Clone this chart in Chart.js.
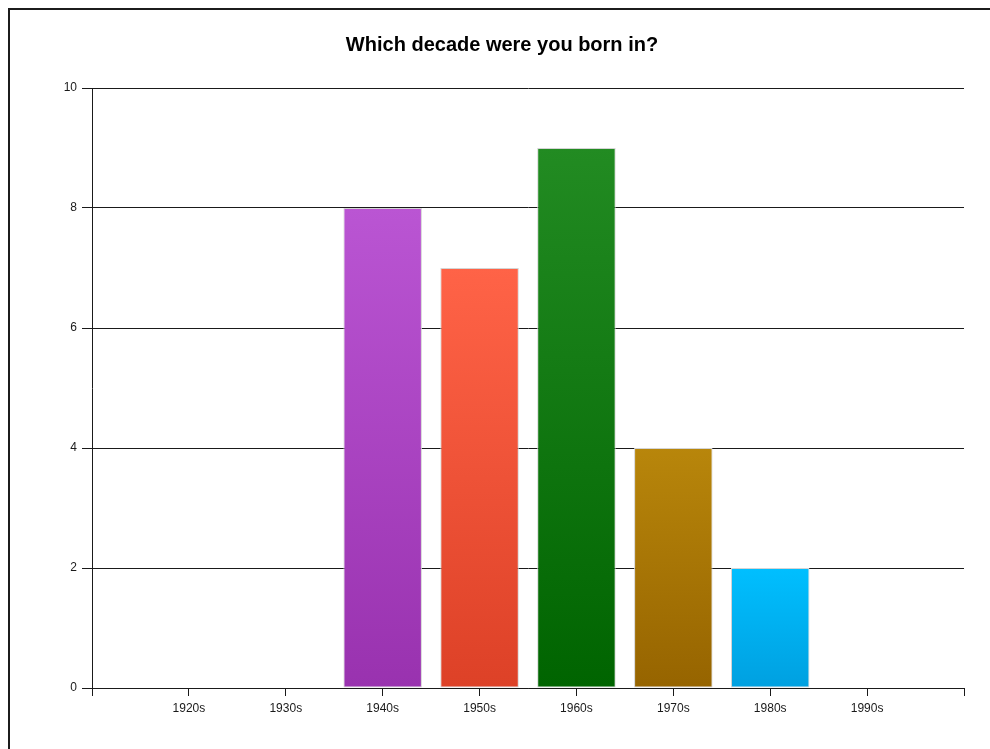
<!DOCTYPE html>
<html>
<head>
<meta charset="utf-8">
<script src="https://cdn.jsdelivr.net/npm/chart.js@4.4.1/dist/chart.umd.min.js"></script>
<style>
  html, body { margin: 0; padding: 0; background: #fff; overflow: hidden; }
  #frame {
    position: absolute; left: 8px; top: 8px;
    width: 1100px; height: 900px;
    border: 2px solid #1c1c1c; box-sizing: border-box;
  }
  #chart { position: absolute; left: 0; top: 0; }
</style>
</head>
<body>
<div id="frame"></div>
<canvas id="chart" width="990" height="749"></canvas>
<script>
// Survey answers: number of respondents per birth decade
const decades = ['1920s', '1930s', '1940s', '1950s', '1960s', '1970s', '1980s', '1990s'];
const respondents = [0, 0, 8, 7, 9, 4, 2, 0];
const yTicks = [0, 2, 4, 6, 8, 10];

// Bar fill: lighter at the top of each bar, darker at its base
const topColors    = ['#BA55D3', '#BA55D3', '#BA55D3', '#FF6347', '#228B22', '#B8860B', '#00BFFF', '#00BFFF'];
const bottomColors = ['#9932AF', '#9932AF', '#9932AF', '#DD4127', '#006400', '#966400', '#00A0E0', '#00A0E0'];

// An empty slot on each side keeps the bars a full step away from the axes
const labels = ['', ...decades, ''];
const values = [null, ...respondents, null];

function barFill(ctx) {
  const i = ctx.dataIndex - 1;
  if (i < 0 || i >= decades.length) return 'rgba(0,0,0,0)';
  const chart = ctx.chart;
  const y = chart.scales && chart.scales.y;
  if (!chart.chartArea || !y || ctx.raw == null) return topColors[i];
  const top = y.getPixelForValue(ctx.raw);
  const base = y.getPixelForValue(0);
  if (Math.abs(base - top) < 1) return topColors[i];
  const g = chart.ctx.createLinearGradient(0, top, 0, base);
  g.addColorStop(0, topColors[i]);
  g.addColorStop(1, bottomColors[i]);
  return g;
}

const tickFont = { family: '"Liberation Sans", Arial, sans-serif', size: 12 };
const ink = '#1a1a1a';

new Chart(document.getElementById('chart'), {
  type: 'bar',
  data: {
    labels: labels,
    datasets: [{
      data: values,
      backgroundColor: barFill,
      borderColor: '#d4d4d4',
      borderWidth: 1,
      borderSkipped: false,
      categoryPercentage: 1.0,
      barPercentage: 0.81
    }]
  },
  options: {
    responsive: false,
    animation: false,
    events: [],
    layout: { padding: { left: 40, right: 26, top: 0, bottom: 0 } },
    plugins: {
      legend: { display: false },
      tooltip: { enabled: false },
      title: {
        display: true,
        text: 'Which decade were you born in?',
        color: '#000',
        font: { family: '"Liberation Sans", Arial, sans-serif', size: 20, weight: 'bold', lineHeight: 1.2 },
        padding: { top: 33, bottom: 31 }
      }
    },
    scales: {
      x: {
        type: 'category',
        offset: false,
        grid: { display: true, offset: false, drawOnChartArea: false, drawTicks: true, tickLength: 8, color: ink, lineWidth: 1 },
        border: { display: true, color: ink, width: 1 },
        ticks: { autoSkip: false, maxRotation: 0, minRotation: 0, padding: 5, color: ink, font: tickFont },
        afterFit: (s) => { s.height = 61; }
      },
      y: {
        min: yTicks[0],
        max: yTicks[yTicks.length - 1],
        afterBuildTicks: (s) => { s.ticks = yTicks.map(v => ({ value: v })); },
        grid: { display: true, drawOnChartArea: true, drawTicks: true, tickLength: 10, color: ink, lineWidth: 1 },
        border: { display: true, color: ink, width: 1 },
        ticks: { padding: 5, color: ink, font: tickFont },
        afterFit: (s) => { s.width = 52; }
      }
    }
  }
});
</script>
</body>
</html>
